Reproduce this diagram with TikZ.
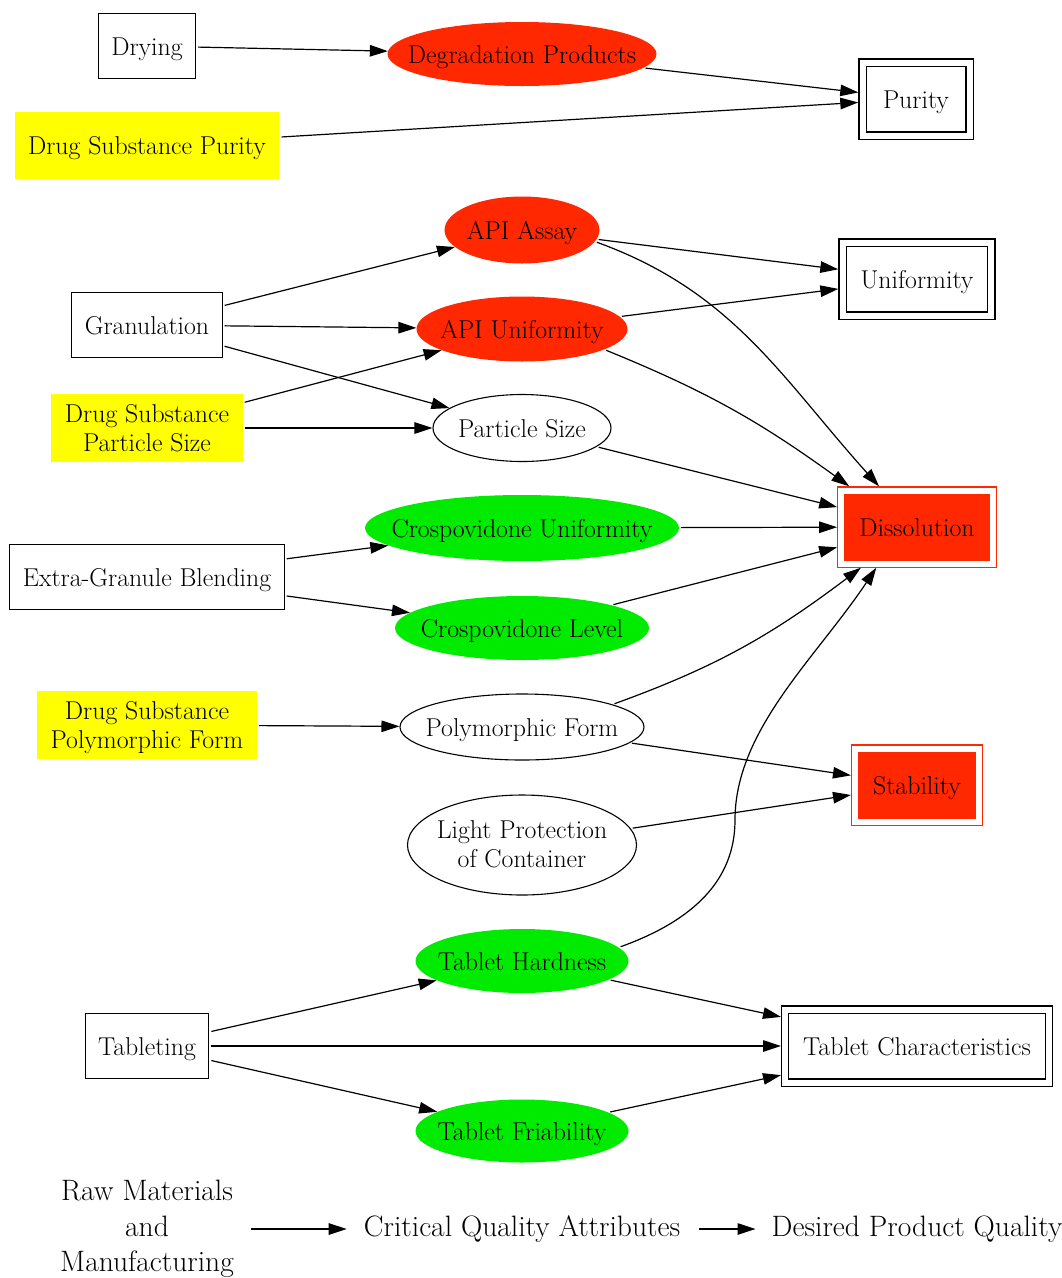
\documentclass[tikz,border=0pt]{standalone}
\usetikzlibrary{shapes.geometric,arrows.meta}

\definecolor{qred}{RGB}{255,40,0}
\definecolor{qgreen}{RGB}{0,235,0}
\definecolor{qyellow}{RGB}{255,255,0}

\newcommand{\inell}[1]{\makebox[0pt]{#1}}

\tikzset{
  every node/.style={font=\fontsize{25.8}{29.5}\selectfont},
  oneline/.style={text height=19.5pt, text depth=0.5pt},
  proc/.style={draw, rectangle, oneline, line width=1.1pt, inner xsep=13pt, minimum height=65pt},
  raw/.style={rectangle, fill=qyellow, align=center, inner xsep=13.5pt, inner ysep=10pt, minimum height=67pt},
  attr/.style={ellipse, draw, oneline, line width=1.1pt, inner sep=0pt},
  redattr/.style={ellipse, oneline, fill=qred, inner sep=0pt},
  greenattr/.style={ellipse, oneline, fill=qgreen, inner sep=0pt},
  goal/.style={draw, oneline, double, double distance=6pt, line width=1.1pt, inner xsep=18pt, minimum height=73pt, outer sep=4.2pt},
  critgoal/.style={goal, draw=qred, fill=qred, double=white},
  legtext/.style={font=\fontsize{29.5}{35.5}\selectfont, align=center},
  link/.style={-{Triangle[length=18pt,width=11.5pt]}, line width=1.2pt, shorten <=2pt},
}

\begin{document}
\begin{tikzpicture}[x=1pt, y=-1pt]
  \useasboundingbox (0,0) rectangle (1062,1278);

  \node[proc] (drying) at (147,46) {Drying};
  \node[redattr, minimum width=269pt, minimum height=64pt] (degrad) at (522,54) {\inell{Degradation Products}};
  \node[goal, minimum width=107pt] (purity) at (916,99) {Purity};
  \node[raw, oneline] (dspurity) at (147,145) {Drug Substance Purity};

  \node[redattr, minimum width=155pt, minimum height=67pt] (assay) at (522,230) {\inell{API Assay}};
  \node[goal] (unif) at (917,279) {Uniformity};
  \node[proc] (gran) at (147,325) {Granulation};
  \node[redattr, minimum width=211pt, minimum height=65pt] (apiunif) at (522,329) {\inell{API Uniformity}};
  \node[raw] (dssize) at (147,428) {Drug Substance\\Particle Size};
  \node[attr, minimum width=178pt, minimum height=67pt] (psize) at (522,428) {\inell{Particle Size}};

  \node[critgoal] (diss) at (917,527) {Dissolution};
  \node[greenattr, minimum width=314pt, minimum height=66pt] (crosunif) at (522,528) {\inell{Crospovidone Uniformity}};
  \node[proc] (blend) at (147,577) {Extra-Granule Blending};
  \node[greenattr, minimum width=254pt, minimum height=64pt] (croslevel) at (522,628) {\inell{Crospovidone Level}};

  \node[raw] (dspoly) at (147,725) {Drug Substance\\\raisebox{0pt}[\height][0pt]{Polymorphic Form}};
  \node[attr, minimum width=244pt, minimum height=66pt] (poly) at (522,727) {\inell{Polymorphic Form}};
  \node[critgoal] (stab) at (917,785) {Stability};
  \node[attr, text height=17pt, text depth=0pt, minimum width=229pt, minimum height=100pt] (light) at (522,845)
    {\inell{\begin{tabular}{@{}c@{}}Light Protection\\of Container\end{tabular}}};

  \node[greenattr, minimum width=213pt, minimum height=64pt] (hard) at (522,961) {\inell{Tablet Hardness}};
  \node[proc] (tablet) at (147,1046) {Tableting};
  \node[goal] (tabchar) at (917,1046) {Tablet Characteristics};
  \node[greenattr, minimum width=213pt, minimum height=63pt] (friab) at (522,1131) {\inell{Tablet Friability}};
  \coordinate (bend) at (735,820);

  \draw[link] (drying) -- (degrad);
  \draw[link] (degrad) -- (purity);
  \draw[link] (dspurity) -- (purity);
  \draw[link] (gran) -- (assay);
  \draw[link] (gran) -- (apiunif);
  \draw[link] (gran) -- (psize);
  \draw[link] (dssize) -- (apiunif);
  \draw[link] (dssize) -- (psize);
  \draw[link] (assay) -- (unif);
  \draw[link] (apiunif) -- (unif);
  \draw[link] (assay.-9) .. controls +(138,50) and +(-98,-109) .. (diss.133);
  \draw[link] (apiunif.-14) .. controls +(103,42) and +(-90,-65) .. (diss.149);
  \draw[link] (psize) -- (diss);
  \draw[link] (blend) -- (crosunif);
  \draw[link] (blend) -- (croslevel);
  \draw[link] (crosunif) -- (diss);
  \draw[link] (croslevel) -- (diss);
  \draw[link] (dspoly) -- (poly);
  \draw[link] (poly.14) .. controls +(105,-38) and +(-89,67) .. (diss.216);
  \draw[link] (poly) -- (stab);
  \draw[link] (light) -- (stab);
  \draw[link] (hard.8) .. controls +(75,-27) and +(0,60) .. (bend)
    .. controls +(0,-90) and +(-60,90) .. (diss.225);
  \draw[link] (tablet) -- (hard);
  \draw[link] (tablet) -- (tabchar);
  \draw[link] (tablet) -- (friab);
  \draw[link] (hard) -- (tabchar);
  \draw[link] (friab) -- (tabchar);

  % legend
  \node[legtext, inner xsep=15pt] (legraw) at (147,1229) {Raw Materials\\and\\Manufacturing};
  \node[legtext, inner xsep=17pt] (legcqa) at (522,1229) {Critical Quality Attributes};
  \node[legtext, inner xsep=16pt] (legdpq) at (917,1229) {Desired Product Quality};
  \draw[link] (legraw) -- (legcqa);
  \draw[link] (legcqa) -- (legdpq);
\end{tikzpicture}
\end{document}
